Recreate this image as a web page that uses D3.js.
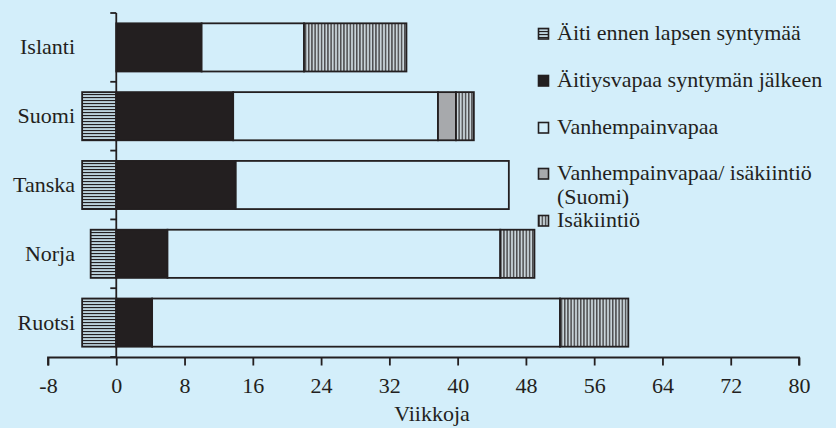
<!DOCTYPE html>
<html><head><meta charset="utf-8">
<script src="https://cdn.jsdelivr.net/npm/d3@7/dist/d3.min.js"></script>
<style>
html,body{margin:0;padding:0;background:#d3eefa;}
svg{display:block;}
svg text{font-family:"Liberation Serif","Times New Roman",Times,"DejaVu Serif","Noto Serif",serif;fill:#231f20;}
</style></head>
<body>
<svg id="chart" width="836" height="428"></svg>
<script>
// ---- data ----
const categories = ["Islanti", "Suomi", "Tanska", "Norja", "Ruotsi"];
const aitiEnnen = [0, 4, 4, 3, 4];                 // weeks before birth (drawn left of 0)
const aitiysvapaa = [10, 13.7, 14, 6, 4.2];
const vanhempainvapaa = [12, 24, 32, 39, 47.8];
const vanhIsakiintio = [0, 2.1, 0, 0, 0];
const isakiintio = [12, 2.1, 0, 4, 8];
const xTicks = [-8, 0, 8, 16, 24, 32, 40, 48, 56, 64, 72, 80];
const legendLabels = [
  ["Äiti ennen lapsen syntymää"],
  ["Äitiysvapaa syntymän jälkeen"],
  ["Vanhempainvapaa"],
  ["Vanhempainvapaa/ isäkiintiö", "(Suomi)"],
  ["Isäkiintiö"]
];
const xTitle = "Viikkoja";

// ---- setup ----
const svg = d3.select("#chart");
const ink = "#231f20";
const bg = "#d3eefa";
const defs = svg.append("defs");
const ph = defs.append("pattern").attr("id", "hstripe").attr("patternUnits", "userSpaceOnUse")
  .attr("width", 6).attr("height", 3);
ph.append("rect").attr("width", 6).attr("height", 3).attr("fill", "#bcd2dc");
ph.append("rect").attr("y", 1).attr("width", 6).attr("height", 1.1).attr("fill", ink);
const pv = defs.append("pattern").attr("id", "vstripe").attr("patternUnits", "userSpaceOnUse")
  .attr("width", 3.2).attr("height", 6);
pv.append("rect").attr("width", 3.2).attr("height", 6).attr("fill", "#c9d4d9");
pv.append("rect").attr("x", 1).attr("width", 1.1).attr("height", 6).attr("fill", ink);

const fills = ["url(#hstripe)", ink, bg, "#a7a9ac", "url(#vstripe)"];

const x = d3.scaleLinear().domain([-8, 80]).range([48, 799]);
const y = d3.scaleBand().domain(categories).range([13, 357]).paddingInner(0.3).paddingOuter(0.15);

// build segments
const positive = [aitiysvapaa, vanhempainvapaa, vanhIsakiintio, isakiintio];
const table = categories.map((c, i) => {
  const o = {cat: c};
  positive.forEach((s, k) => o["s" + k] = s[i]);
  return o;
});
const stack = d3.stack().keys(["s0", "s1", "s2", "s3"])(table);
const segs = [];
categories.forEach((c, i) => {
  if (aitiEnnen[i] > 0) segs.push({cat: c, x0: -aitiEnnen[i], x1: 0, k: 0});
});
stack.forEach((layer, k) => {
  layer.forEach(d => {
    if (d[1] - d[0] > 0) segs.push({cat: d.data.cat, x0: d[0], x1: d[1], k: k + 1});
  });
});

svg.append("g").selectAll("rect").data(segs).join("rect")
  .attr("x", d => x(d.x0))
  .attr("y", d => y(d.cat))
  .attr("width", d => x(d.x1) - x(d.x0))
  .attr("height", y.bandwidth())
  .attr("fill", d => fills[d.k])
  .attr("stroke", ink)
  .attr("stroke-width", 1.8);

// y axis line and ticks
const x0 = x(0);
const gy = svg.append("g");
gy.append("line").attr("x1", x0).attr("x2", x0).attr("y1", y.range()[0]).attr("y2", y.range()[1])
  .attr("stroke", ink).attr("stroke-width", 1.8);
const bounds = d3.range(categories.length + 1).map(i => y.range()[0] + i * (y.range()[1] - y.range()[0]) / categories.length);
gy.selectAll("line.t").data(bounds).join("line").attr("class", "t")
  .attr("x1", x0 - 6).attr("x2", x0).attr("y1", d => d).attr("y2", d => d)
  .attr("stroke", ink).attr("stroke-width", 1.8);
gy.selectAll("text").data(categories).join("text")
  .attr("x", 75).attr("y", d => y(d) + y.bandwidth() / 2 + 7)
  .attr("text-anchor", "end").attr("font-size", 22).text(d => d);

// x axis
const axisY = 357.5;
const gx = svg.append("g").attr("transform", `translate(0,${axisY})`)
  .call(d3.axisBottom(x).tickValues(xTicks).tickSize(8).tickPadding(12).tickFormat(d => String(d)));
gx.attr("font-family", null);
gx.select(".domain").attr("stroke", ink).attr("stroke-width", 1.8).attr("d", `M${x(-8)},8V0H${x(80)}V8`);
gx.selectAll(".tick line").attr("stroke", ink).attr("stroke-width", 1.8);
gx.selectAll(".tick text").attr("font-size", 22).attr("fill", ink);
svg.append("text").attr("x", x(37)).attr("y", 421).attr("text-anchor", "middle")
  .attr("font-size", 22).text(xTitle);

// legend
const baselines = [[40], [87], [134], [180, 204], [227]];
const lg = svg.append("g");
legendLabels.forEach((lines, i) => {
  const b = baselines[i];
  lg.append("rect").attr("x", 538.5).attr("y", b[0] - 11.5).attr("width", 10).attr("height", 10.5)
    .attr("fill", fills[i]).attr("stroke", ink).attr("stroke-width", 1.6);
  lines.forEach((t, j) => {
    lg.append("text").attr("x", 557).attr("y", b[j]).attr("font-size", 22).text(t);
  });
});
</script>
</body></html>
